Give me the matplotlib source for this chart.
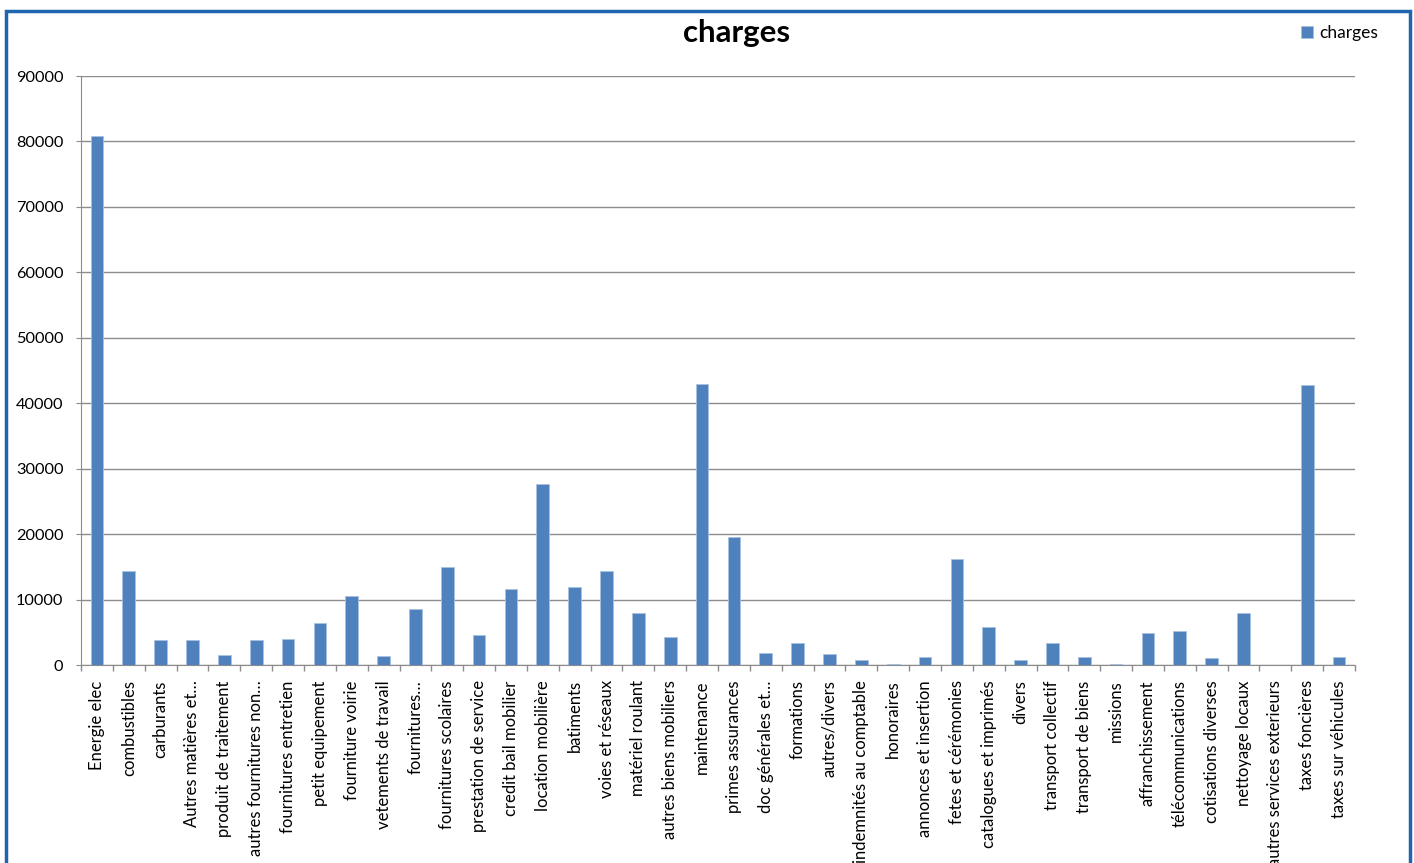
import matplotlib
matplotlib.use("Agg")
import matplotlib.pyplot as plt
from matplotlib.patches import Rectangle
import numpy as np

plt.rcParams['font.family'] = ['Lato', 'DejaVu Sans']

categories = [
    "Energie elec", "combustibles", "carburants", "Autres matières et…",
    "produit de traitement", "autres fournitures non…", "fournitures entretien",
    "petit equipement", "fourniture voirie", "vetements de travail", "fournitures…",
    "fournitures scolaires", "prestation de service", "credit bail mobilier",
    "location mobilière", "batiments", "voies et réseaux", "matériel roulant",
    "autres biens mobiliers", "maintenance", "primes assurances", "doc générales et…",
    "formations", "autres/divers", "indemnités au comptable", "honoraires",
    "annonces et insertion", "fetes et cérémonies", "catalogues et imprimés", "divers",
    "transport collectif", "transport de biens", "missions", "affranchissement",
    "télécommunications", "cotisations diverses", "nettoyage locaux",
    "autres services exterieurs", "taxes foncières", "taxes sur véhicules",
]
charges = [
    80840, 14400, 3760, 3760, 1480, 3760, 3960, 6390, 10500, 1450, 8520,
    14900, 4520, 11600, 27660, 11980, 14400, 7870, 4210, 42940, 19560, 1780,
    3350, 1670, 710, 100, 1170, 16200, 5830, 760, 3350, 1170, 100, 4820,
    5220, 1120, 7960, 0, 42790, 1200,
]
yticks = [0, 10000, 20000, 30000, 40000, 50000, 60000, 70000, 80000, 90000]

W, H = 1414, 863
fig = plt.figure(figsize=(W / 100, H / 100), dpi=100)
ax = fig.add_axes([81 / W, 1 - 665 / H, (1355 - 81) / W, (665 - 76) / H])

x = np.arange(len(categories))
ax.bar(x, charges, width=0.4, color="#4F81BD", edgecolor="#A9C1E0", linewidth=0.6,
       zorder=3, label="charges")

ax.set_xlim(-0.5, len(categories) - 0.5)
ax.set_ylim(0, 90000)
ax.set_yticks(yticks)
ax.set_yticklabels([str(v) for v in yticks], fontsize=11.8)
ax.yaxis.grid(True, color="#8C8C8C", linewidth=1.0, zorder=0)
ax.tick_params(axis="y", length=3.6, color="#8C8C8C", pad=9)

ax.set_xticks(x)
ax.set_xticklabels(categories, rotation=90, fontsize=12, va="top", ha="center")
ax.tick_params(axis="x", length=0, pad=11)
ax.set_xticks(np.arange(-0.5, len(categories), 1), minor=True)
ax.tick_params(axis="x", which="minor", length=4.5, color="#8C8C8C", width=1.0)

for s in ["top", "right"]:
    ax.spines[s].set_visible(False)
ax.spines["left"].set_color("#8C8C8C")
ax.spines["bottom"].set_color("#8C8C8C")

fig.text(737 / W, 1 - 33 / H, "charges", fontsize=22.5, fontweight="bold",
         ha="center", va="center")

leg = fig.legend(loc="center left", bbox_to_anchor=(1301 / W, 1 - 33 / H),
                 frameon=False, fontsize=12.5, handlelength=0.7, handleheight=0.7,
                 handletextpad=0.35, borderpad=0, borderaxespad=0)

border = Rectangle((6 / W, -0.02), (1410 - 6) / W, (1 - 11 / H) + 0.02,
                   transform=fig.transFigure, fill=False, edgecolor="#1F64AE",
                   linewidth=2.5, zorder=10)
fig.patches.append(border)

fig.savefig("out.png", dpi=100, facecolor="white")
